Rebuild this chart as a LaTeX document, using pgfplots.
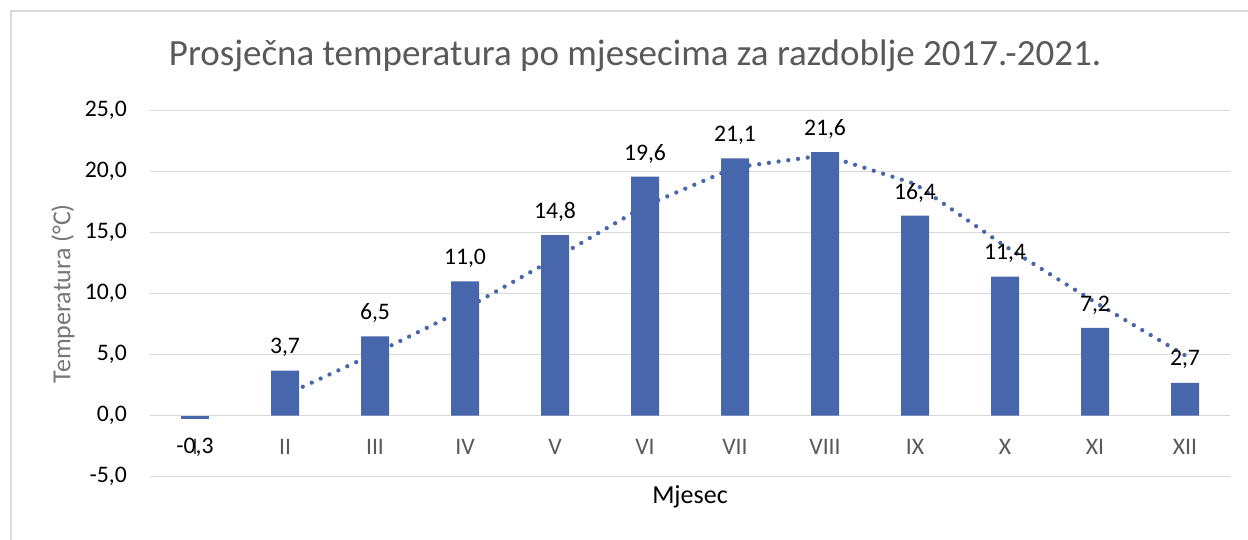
\documentclass[border=0pt]{standalone}
\usepackage{pgfplots}
\pgfplotsset{compat=1.18}
\usepackage{fontspec}
\setmainfont{Carlito}
\definecolor{barblue}{RGB}{72,102,172}
\definecolor{gridgray}{RGB}{217,217,217}
\definecolor{labgray}{RGB}{89,89,89}
\definecolor{axtitlegray}{RGB}{118,118,118}
\begin{document}
\begin{tikzpicture}
\useasboundingbox (0,0) rectangle (1248bp,540bp);
\draw[gridgray, line width=2bp] (11bp,0) -- (11bp,529bp) -- (1248bp,529bp);
\node[anchor=base, text=labgray, inner sep=0pt, font=\fontsize{37bp}{44bp}\selectfont] at (635bp,474bp) {Prosječna temperatura po mjesecima za razdoblje 2017.-2021.};
\begin{axis}[
  at={(150bp,63.3bp)}, anchor=south west,
  scale only axis, width=1080bp, height=366bp,
  xmin=-0.5, xmax=11.5, ymin=-5, ymax=25,
  ytick={-5,0,5,10,15,20,25},
  xtick={0,1,2,3,4,5,6,7,8,9,10,11},
  xticklabels={I,II,III,IV,V,VI,VII,VIII,IX,X,XI,XII},
  axis line style={draw=none},
  major tick length=0pt,
  ymajorgrids, grid style={gridgray, line width=1.5bp},
  /pgf/number format/fixed,
  /pgf/number format/fixed zerofill,
  /pgf/number format/precision=1,
  /pgf/number format/use comma,
  /pgf/number format/assume math mode=true,
  yticklabel style={font=\fontsize{23.7bp}{28bp}\selectfont, text=black, anchor=east, inner sep=0pt, xshift=-23bp},
  xticklabel style={font=\fontsize{23.7bp}{28bp}\selectfont, text=labgray, anchor=center, inner sep=0pt, yshift=30bp},
  xlabel={Mjesec},
  xlabel style={font=\fontsize{26bp}{30bp}\selectfont, text=black, at={(axis description cs:0.5,0)}, anchor=center, yshift=-20bp},
  ylabel={Temperatura (°C)},
  ylabel style={font=\fontsize{26bp}{30bp}\selectfont, text=axtitlegray, at={(axis description cs:-0.0806,0.5)}, anchor=center},
  clip=false,
]
\addplot[ybar, bar width=28bp, bar shift=0pt, fill=barblue, draw=none,
  nodes near coords,
  every node near coord/.append style={font=\fontsize{23.7bp}{28bp}\selectfont, text=black, anchor=center, yshift=23bp}]
  coordinates {(1,3.7) (2,6.5) (3,11.0) (4,14.8) (5,19.6) (6,21.1) (7,21.6) (8,16.4) (9,11.4) (10,7.2) (11,2.7)};
\addplot[ybar, bar width=28bp, bar shift=0pt, fill=barblue, draw=none,
  nodes near coords,
  every node near coord/.append style={font=\fontsize{23.7bp}{28bp}\selectfont, text=black, anchor=center, yshift=-28bp}]
  coordinates {(0,-0.3)};
\addplot[barblue, line width=4.3bp, line cap=round, dash pattern=on 0bp off 9.8bp]
  coordinates {(1,1.7) (2,5.1) (3,8.75) (4,12.9) (5,17.2) (6,20.35) (7,21.35) (8,19.0) (9,13.9) (10,9.3) (11,4.95)};
\end{axis}
\end{tikzpicture}
\end{document}
